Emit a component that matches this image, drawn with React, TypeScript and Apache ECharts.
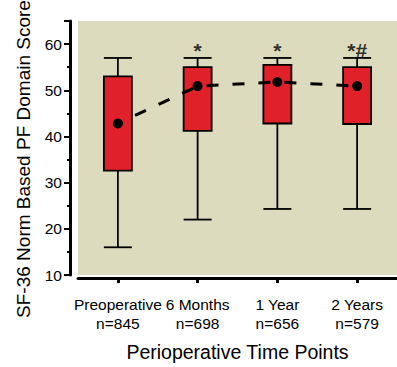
import React, { useEffect, useRef } from "react";
import * as echarts from "echarts";

const categories = ["Preoperative", "6 Months", "1 Year", "2 Years"];
const counts = [845, 698, 656, 579];
// [low whisker, Q1, Q3, high whisker]
const whiskerLow = [16, 22, 24.3, 24.3];
const q1 = [32.6, 41.2, 42.8, 42.7];
const q3 = [53, 55, 55.5, 55];
const whiskerHigh = [57, 57, 57, 57];
const means = [42.8, 50.9, 51.8, 50.9];
const marks = ["", "*", "*", "*#"];

const FONT = "'Liberation Sans', Arial, sans-serif";

export default function App() {
  const ref = useRef<HTMLDivElement>(null);
  useEffect(() => {
    if (!ref.current) return;
    const chart = echarts.init(ref.current, undefined, { renderer: "svg" });
    const boxData = categories.map((_, i) => [i, whiskerLow[i], q1[i], q3[i], whiskerHigh[i]]);
    chart.setOption({
      animation: false,
      textStyle: { fontFamily: FONT },
      grid: {
        left: 78,
        top: 21,
        height: 263,
        width: 323,
        show: true,
        backgroundColor: "#dcdbbe",
        borderWidth: 0,
      },
      xAxis: {
        type: "category",
        data: categories,
        offset: 3,
        name: "Perioperative Time Points",
        nameLocation: "middle",
        nameGap: 64,
        nameTextStyle: { fontSize: 19.5, color: "#000", fontFamily: FONT },
        axisLine: { show: true, lineStyle: { color: "#000", width: 3 } },
        axisTick: { show: true, alignWithLabel: true, length: 5, lineStyle: { width: 3, color: "#000" } },
        axisLabel: {
          interval: 0,
          color: "#000",
          fontSize: 15.5,
          lineHeight: 19,
          margin: 17,
          fontFamily: FONT,
          formatter: (v: string, i: number) => v + "\n" + "n=" + counts[i],
        },
        splitLine: { show: false },
      },
      yAxis: {
        type: "value",
        min: 10,
        max: 65,
        interval: 10,
        offset: 8,
        name: "SF-36 Norm Based PF Domain Score",
        nameLocation: "middle",
        nameGap: 37,
        nameTextStyle: { fontSize: 19, color: "#000", fontFamily: FONT, padding: [0, 22, 0, 0] },
        axisLine: { show: true, lineStyle: { color: "#000", width: 3 } },
        axisTick: { show: true, length: 6, lineStyle: { width: 2, color: "#000" } },
        minorTick: { show: true, splitNumber: 2, length: 3, lineStyle: { width: 2, color: "#000" } },
        axisLabel: { color: "#000", fontSize: 15.5, margin: 8, showMaxLabel: false, fontFamily: FONT },
        splitLine: { show: false },
      },
      series: [
        {
          type: "custom",
          data: boxData,
          z: 2,
          renderItem: (params: any, api: any) => {
            const x = api.value(0);
            const low = api.coord([x, api.value(1)]);
            const b1 = api.coord([x, api.value(2)]);
            const b3 = api.coord([x, api.value(3)]);
            const high = api.coord([x, api.value(4)]);
            const hw = 14;
            const cx = low[0];
            const ls = { stroke: "#000", lineWidth: 1.8 };
            return {
              type: "group",
              children: [
                { type: "line", shape: { x1: cx, y1: high[1], x2: cx, y2: b3[1] }, style: ls },
                { type: "line", shape: { x1: cx, y1: b1[1], x2: cx, y2: low[1] }, style: ls },
                { type: "line", shape: { x1: cx - hw, y1: high[1], x2: cx + hw, y2: high[1] }, style: ls },
                { type: "line", shape: { x1: cx - hw, y1: low[1], x2: cx + hw, y2: low[1] }, style: ls },
                {
                  type: "rect",
                  shape: { x: cx - hw, y: b3[1], width: hw * 2, height: b1[1] - b3[1] },
                  style: { fill: "#e0212a", stroke: "#000", lineWidth: 1.8 },
                },
              ],
            };
          },
        },
        {
          type: "line",
          data: means,
          z: 5,
          symbol: "circle",
          symbolSize: 10,
          itemStyle: { color: "#000" },
          lineStyle: { color: "#000", width: 3, type: [12, 14], dashOffset: 7 },
        },
        {
          type: "scatter",
          data: whiskerHigh,
          symbolSize: 0,
          z: 6,
          label: {
            show: true,
            position: "top",
            distance: -3,
            fontSize: 21,
            fontWeight: "bold",
            color: "#000",
            fontFamily: FONT,
            formatter: (p: any) => marks[p.dataIndex],
          },
        },
      ],
    });
    return () => chart.dispose();
  }, []);
  return (
    <div
      ref={ref}
      style={{ position: "fixed", left: 0, top: 0, width: 397, height: 367, background: "#fff" }}
    />
  );
}
